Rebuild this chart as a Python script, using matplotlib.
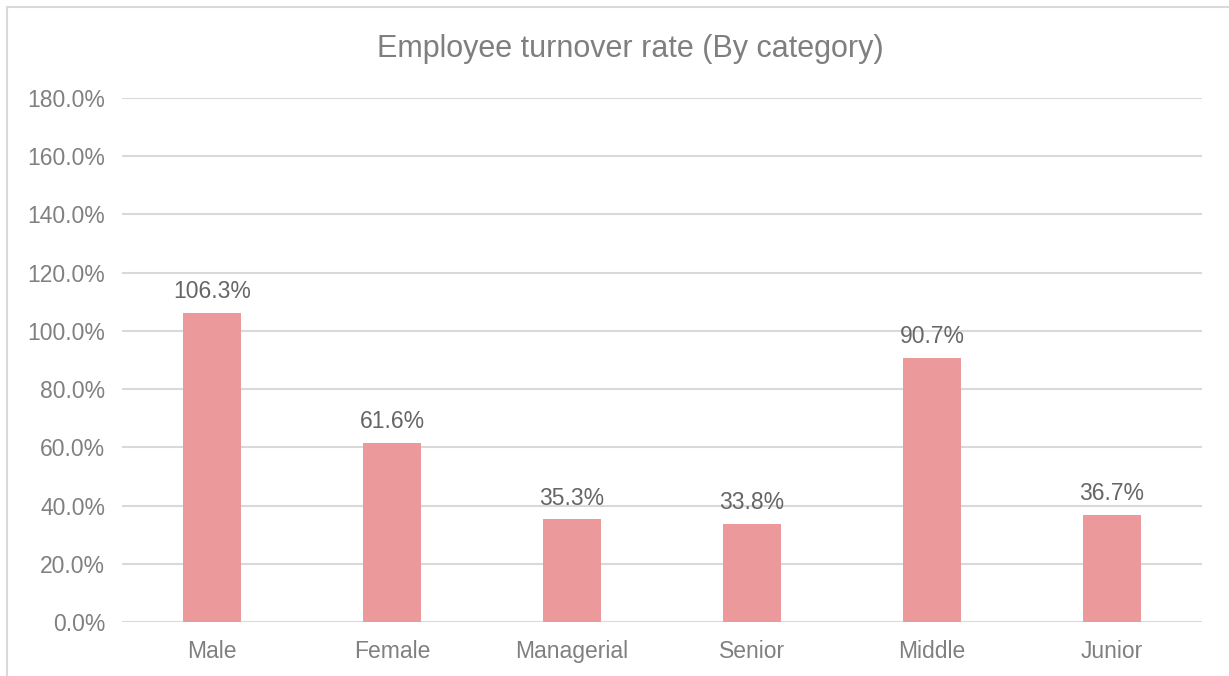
import matplotlib.pyplot as plt
from matplotlib.patches import Rectangle
from matplotlib.ticker import FuncFormatter

categories = ['Male', 'Female', 'Managerial', 'Senior', 'Middle', 'Junior']
turnover = [106.3, 61.6, 35.3, 33.8, 90.7, 36.7]
yticks = [0, 20, 40, 60, 80, 100, 120, 140, 160, 180]

plt.rcParams['font.family'] = ['Liberation Sans', 'DejaVu Sans']

fig = plt.figure(figsize=(12.29, 6.76), dpi=100)
ax = fig.add_axes([122 / 1229, 1 - 622 / 676, 1080 / 1229, 524 / 676])

# marco del grafico (solo bordes izquierdo y superior visibles)
fig.patches.append(Rectangle((7 / 1229, -0.1), 1.2, 1 - 7 / 676 + 0.1,
                             transform=fig.transFigure, fill=False,
                             edgecolor='#d9d9d9', linewidth=1.5))

bars = ax.bar(range(len(categories)), turnover, width=0.32, color='#eb999b', zorder=3)

for b, v in zip(bars, turnover):
    ax.annotate(f'{v:.1f}%', xy=(b.get_x() + b.get_width() / 2, v),
                xytext=(0, 7), textcoords='offset points',
                ha='center', va='bottom', fontsize=16.5, color='#666666')

ax.set_xlim(-0.5, len(categories) - 0.5)
ax.set_ylim(0, 180)
ax.set_yticks(yticks)
ax.yaxis.set_major_formatter(FuncFormatter(lambda v, p: f'{v:.1f}%'))
ax.set_xticks(range(len(categories)))
ax.set_xticklabels(categories)
ax.tick_params(axis='both', length=0, labelsize=16.5, labelcolor='#808080')
ax.tick_params(axis='x', pad=13)
ax.tick_params(axis='y', pad=12)
ax.grid(axis='y', color='#d9d9d9', linewidth=1.5, zorder=0)
for s in ax.spines.values():
    s.set_visible(False)

fig.text(630 / 1229, 1 - 49 / 676, 'Employee turnover rate (By category)',
         ha='center', va='center', fontsize=22, color='#7f7f7f')

fig.savefig('out.png', dpi=100, facecolor='white')
